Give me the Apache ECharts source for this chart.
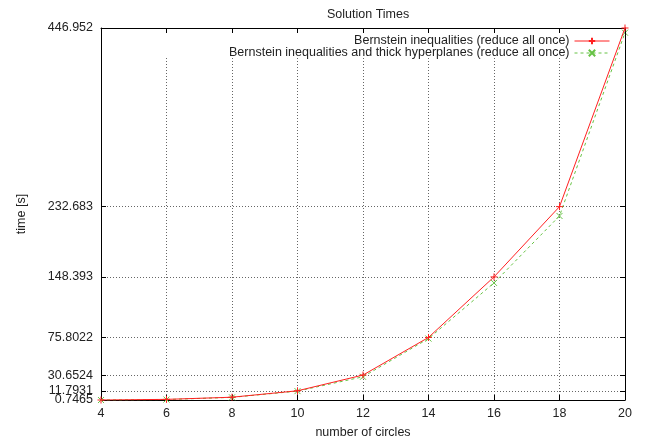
<!DOCTYPE html>
<html>
<head>
<meta charset="utf-8">
<script src="https://cdn.jsdelivr.net/npm/echarts@6/dist/echarts.min.js"></script>
<style>
  html, body { margin: 0; padding: 0; background: #fff; }
  #chart { width: 651px; height: 445px; }
</style>
</head>
<body>
<div id="chart"></div>
<script>
// number of circles
const circles = [4, 6, 8, 10, 12, 14, 16, 18, 20];
// Bernstein inequalities (reduce all once)
const bernstein = [0.7465, 1.5, 4.1, 11.7931, 30.6524, 75.8022, 148.393, 232.683, 446.952];
// Bernstein inequalities and thick hyperplanes (reduce all once)
const bernsteinThick = [0.7, 1.3, 3.9, 11.4, 28.6, 74.4, 141.2, 221.5, 441.3];
// y tick labels
const yTickLabels = ['0.7465', '11.7931', '30.6524', '75.8022', '148.393', '232.683', '446.952'];
const yTicks = yTickLabels.map(Number);

const FONT = '"Liberation Sans", Helvetica, Arial, sans-serif';
const INK = '#222';
const FS = 12.5;
const Y_MIN = yTicks[0];
const Y_MAX = yTicks[yTicks.length - 1];
const gridLine = { show: true, lineStyle: { color: '#666', type: [1, 2], width: 1 } };
const border = { show: true, lineStyle: { color: '#000', width: 1 } };

const toPairs = (ys) => circles.map((c, i) => [c, ys[i]]);
const yLabel = (v) => {
  const i = yTicks.findIndex(t => Math.abs(t - v) < 1e-6);
  return i >= 0 ? yTickLabels[i] : '';
};
const yLabelStyle = { fontFamily: FONT, fontSize: FS, color: INK, margin: 8, formatter: yLabel, hideOverlap: false };

const chart = echarts.init(document.getElementById('chart'));
chart.setOption({
  animation: false,
  backgroundColor: '#fff',
  title: {
    text: 'Solution Times',
    left: 322,
    top: 3,
    textStyle: { fontFamily: FONT, fontSize: FS, fontWeight: 'normal', color: INK }
  },
  legend: {
    orient: 'vertical',
    right: 41,
    top: 34.5,
    padding: 0,
    align: 'right',
    itemWidth: 35,
    itemHeight: 8,
    itemGap: -1,
    lineStyle: { width: 1 },
    textStyle: { fontFamily: FONT, fontSize: FS, lineHeight: 12, color: INK },
    z: 5
  },
  grid: { left: 101, right: 26, top: 28, bottom: 45 },
  graphic: [{
    type: 'rect',
    z: 1,
    shape: { x: 102, y: 29, width: 522, height: 28 },
    style: { fill: '#fff' }
  }],
  xAxis: [{
    type: 'value',
    min: 4, max: 20, interval: 2,
    name: 'number of circles',
    nameLocation: 'middle',
    nameGap: 26,
    nameTextStyle: { fontFamily: FONT, fontSize: FS, color: INK },
    axisLine: border,
    axisTick: { inside: true, length: 5, lineStyle: { color: '#000' } },
    axisLabel: { fontFamily: FONT, fontSize: FS, color: INK, margin: 7 },
    splitLine: gridLine
  }, {
    type: 'value',
    position: 'top',
    min: 4, max: 20, interval: 2,
    z: 3,
    axisLine: border,
    axisTick: { inside: true, length: 5, lineStyle: { color: '#000' } },
    axisLabel: { show: false },
    splitLine: { show: false }
  }],
  yAxis: [{
    type: 'value',
    min: Y_MIN, max: Y_MAX,
    name: 'time [s]',
    nameLocation: 'middle',
    nameGap: 73,
    nameRotate: 90,
    nameTextStyle: { fontFamily: FONT, fontSize: FS, color: INK },
    axisLine: border,
    axisTick: { inside: true, length: 5, customValues: yTicks, lineStyle: { color: '#000' } },
    axisLabel: Object.assign({ customValues: yTicks.slice(1), showMaxLabel: true }, yLabelStyle),
    splitLine: gridLine
  }, {
    type: 'value',
    position: 'right',
    min: Y_MIN, max: Y_MAX,
    z: 3,
    axisLine: border,
    axisTick: { inside: true, length: 5, customValues: yTicks, lineStyle: { color: '#000' } },
    axisLabel: { show: false, customValues: yTicks },
    splitLine: { show: false }
  }, {
    // bottom label only, kept apart so it is not hidden by its neighbour
    type: 'value',
    position: 'left',
    min: Y_MIN, max: Y_MAX,
    axisLine: { show: false },
    axisTick: { show: false },
    axisLabel: Object.assign({ customValues: [Y_MIN], showMinLabel: true }, yLabelStyle),
    splitLine: { show: false }
  }],
  series: [{
    name: 'Bernstein inequalities (reduce all once)',
    type: 'line',
    data: toPairs(bernstein),
    symbol: 'path://M0,5L10,5M5,0L5,10',
    symbolSize: 7,
    lineStyle: { color: '#ff2020', width: 1 },
    itemStyle: { color: '#ff2020', borderColor: '#ff2020', borderWidth: 1 },
    z: 3
  }, {
    name: 'Bernstein inequalities and thick hyperplanes (reduce all once)',
    type: 'line',
    data: toPairs(bernsteinThick),
    symbol: 'path://M0,0L10,10M10,0L0,10',
    symbolSize: 6,
    lineStyle: { color: '#66c244', width: 1, type: [3, 3] },
    itemStyle: { color: '#66c244', borderColor: '#66c244', borderWidth: 1 },
    z: 2
  }]
});
</script>
</body>
</html>
